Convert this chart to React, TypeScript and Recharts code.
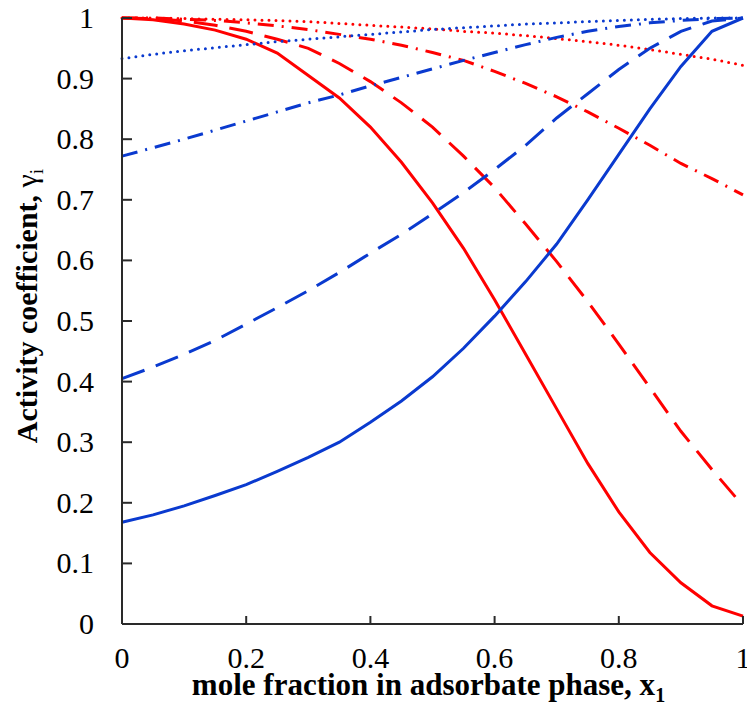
import { LineChart, Line, XAxis, YAxis } from "recharts";

const xs = [0, 0.05, 0.1, 0.15, 0.2, 0.25, 0.3, 0.35, 0.4, 0.45, 0.5, 0.55, 0.6, 0.65, 0.7, 0.75, 0.8, 0.85, 0.9, 0.95, 1];

// red = component 1, blue = component 2
const redSolid = [1, 0.997, 0.99, 0.98, 0.965, 0.942, 0.905, 0.868, 0.82, 0.762, 0.695, 0.62, 0.535, 0.445, 0.355, 0.265, 0.185, 0.118, 0.068, 0.03, 0.013];
const redDashed = [1, 0.999, 0.995, 0.988, 0.978, 0.965, 0.95, 0.925, 0.895, 0.86, 0.82, 0.772, 0.72, 0.66, 0.598, 0.532, 0.462, 0.39, 0.318, 0.255, 0.195];
const redDashDot = [1, 1, 0.998, 0.996, 0.992, 0.987, 0.981, 0.973, 0.965, 0.955, 0.943, 0.93, 0.912, 0.892, 0.87, 0.845, 0.818, 0.79, 0.76, 0.735, 0.708];
const redDotted = [1, 1, 0.999, 0.998, 0.997, 0.996, 0.994, 0.991, 0.988, 0.985, 0.982, 0.978, 0.975, 0.971, 0.966, 0.961, 0.955, 0.948, 0.94, 0.932, 0.922];

const blueSolid = [0.168, 0.18, 0.195, 0.212, 0.23, 0.252, 0.275, 0.3, 0.333, 0.368, 0.408, 0.455, 0.508, 0.565, 0.627, 0.7, 0.775, 0.85, 0.92, 0.978, 1];
const blueDashed = [0.405, 0.424, 0.445, 0.468, 0.495, 0.522, 0.55, 0.58, 0.612, 0.643, 0.677, 0.712, 0.75, 0.79, 0.835, 0.875, 0.915, 0.95, 0.978, 0.995, 1];
const blueDashDot = [0.772, 0.786, 0.8, 0.815, 0.83, 0.845, 0.86, 0.873, 0.888, 0.902, 0.916, 0.93, 0.943, 0.956, 0.968, 0.978, 0.986, 0.992, 0.996, 0.999, 1];
const blueDotted = [0.933, 0.94, 0.946, 0.951, 0.956, 0.961, 0.965, 0.969, 0.973, 0.977, 0.981, 0.984, 0.987, 0.99, 0.992, 0.994, 0.996, 0.998, 0.999, 1, 1];

const xTicks = [0, 0.2, 0.4, 0.6, 0.8, 1];
const yTicks = [0, 0.1, 0.2, 0.3, 0.4, 0.5, 0.6, 0.7, 0.8, 0.9, 1];

const data = xs.map((x, i) => ({
  x,
  r1: redSolid[i],
  r2: redDashed[i],
  r3: redDashDot[i],
  r4: redDotted[i],
  b1: blueSolid[i],
  b2: blueDashed[i],
  b3: blueDashDot[i],
  b4: blueDotted[i],
}));

const RED = "#ff0000";
const BLUE = "#0a3acf";
const AXIS = "#2a2a2a";
const FONT = "'Liberation Serif', 'Times New Roman', serif";

const series = [
  { key: "r1", color: RED, dash: undefined, cap: "butt" },
  { key: "r2", color: RED, dash: "24 12", cap: "butt" },
  { key: "r3", color: RED, dash: "16 8 2 8", cap: "butt" },
  { key: "r4", color: RED, dash: "0 7", cap: "round" },
  { key: "b1", color: BLUE, dash: undefined, cap: "butt" },
  { key: "b2", color: BLUE, dash: "24 12", cap: "butt" },
  { key: "b3", color: BLUE, dash: "16 8 2 8", cap: "butt" },
  { key: "b4", color: BLUE, dash: "0 7", cap: "round" },
];

const YTick = ({ x, y, payload }: any) => (
  <g>
    <line x1={x} x2={x + 10} y1={y} y2={y} stroke={AXIS} strokeWidth={2} />
    <text x={x - 28} y={y + 10} textAnchor="end" fontFamily={FONT} fontSize={30} fill="#000">
      {String(payload.value)}
    </text>
  </g>
);

const XTick = ({ x, y, payload }: any) => (
  <g>
    <line x1={x} x2={x} y1={y} y2={y - 8} stroke={AXIS} strokeWidth={2} />
    <text x={x} y={y + 44} textAnchor="middle" fontFamily={FONT} fontSize={30} fill="#000">
      {String(payload.value)}
    </text>
  </g>
);

const XTitle = ({ viewBox }: any) => (
  <text
    x={viewBox.x + viewBox.width / 2 - 4}
    y={viewBox.y + 71}
    textAnchor="middle"
    fontFamily={FONT}
    fontSize={31}
    fontWeight="bold"
    fill="#000"
  >
    mole fraction in adsorbate phase, x
    <tspan fontSize={20} dy={7}>1</tspan>
  </text>
);

const YTitle = ({ viewBox }: any) => {
  const cx = 37;
  const cy = viewBox.y + viewBox.height / 2 - 15;
  return (
    <text
      x={cx}
      y={cy}
      transform={`rotate(-90 ${cx} ${cy})`}
      textAnchor="middle"
      fontFamily={FONT}
      fontSize={30}
      fontWeight="bold"
      fill="#000"
    >
      Activity coefficient,{" "}
      <tspan fontWeight="normal">γ</tspan>
      <tspan fontWeight="normal" fontSize={19} dy={6}>i</tspan>
    </text>
  );
};

const App = () => {
  return (
    <div style={{ position: "absolute", left: 0, top: 0, background: "#fff" }}>
      <LineChart
        width={747}
        height={711}
        data={data}
        margin={{ top: 18, right: 4, left: 22, bottom: 17 }}
      >
        <XAxis
          dataKey="x"
          type="number"
          domain={[0, 1]}
          ticks={xTicks}
          height={70}
          tickSize={0}
          tickMargin={0}
          tickLine={false}
          axisLine={{ stroke: AXIS, strokeWidth: 2 }}
          tick={<XTick />}
          label={{ content: <XTitle /> }}
        />
        <XAxis
          xAxisId="top"
          orientation="top"
          dataKey="x"
          type="number"
          domain={[0, 1]}
          height={0}
          tick={false}
          tickLine={false}
          axisLine={{ stroke: AXIS, strokeWidth: 2 }}
        />
        <YAxis
          type="number"
          domain={[0, 1]}
          ticks={yTicks}
          width={100}
          tickSize={0}
          tickMargin={0}
          tickLine={false}
          axisLine={{ stroke: AXIS, strokeWidth: 2 }}
          tick={<YTick />}
          label={{ content: <YTitle /> }}
        />
        <YAxis
          yAxisId="right"
          orientation="right"
          type="number"
          domain={[0, 1]}
          width={0}
          tick={false}
          tickLine={false}
          axisLine={{ stroke: AXIS, strokeWidth: 2 }}
        />
        {series.map((s) => (
          <Line
            key={s.key}
            dataKey={s.key}
            type="linear"
            stroke={s.color}
            strokeWidth={3}
            strokeDasharray={s.dash}
            strokeLinecap={s.cap as any}
            dot={false}
            activeDot={false}
            isAnimationActive={false}
          />
        ))}
      </LineChart>
    </div>
  );
};

export default App;
